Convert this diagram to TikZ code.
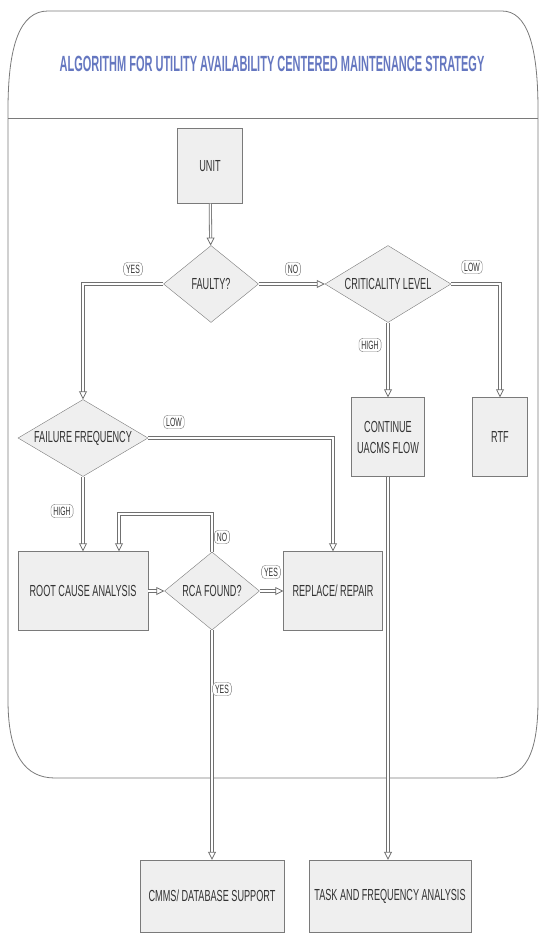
\documentclass[tikz,border=0pt]{standalone}
\usepackage{fontspec}
\setmainfont{Liberation Sans}[FakeStretch=0.57]
\newfontfamily\titlefont{Liberation Sans}[FakeStretch=0.5]
\usetikzlibrary{shapes.geometric,arrows.meta}

\begin{document}
\begin{tikzpicture}[x=1pt,y=-1pt,
    block/.style={draw=lineColour, fill=fillColour, text=textColour, inner sep=0pt, align=center, font=\fontsize{16}{21}\selectfont},
    decision/.style={diamond, aspect=1.6, draw=lineColour, fill=fillColour, text=textColour, inner sep=0pt, font=\fontsize{16}{21}\selectfont},
    flow/.style={draw=flowColour, line width=0.8pt, double=white, double distance=1.5pt, -{Triangle[open,length=8pt,width=8pt]}},
    tag/.style={draw=lineColour, fill=white, rounded corners=4pt, text=textColour, inner xsep=2.5pt, inner ysep=2.5pt, font=\fontsize{12}{13}\selectfont}]
    % Define colours
    \definecolor{lineColour}{HTML}{7A7A7A}
    \definecolor{flowColour}{HTML}{707070}
    \definecolor{fillColour}{HTML}{EFEFEF}
    \definecolor{textColour}{HTML}{333333}
    \definecolor{titleColour}{HTML}{6577C0}

    % Fix the page size
    \useasboundingbox (0,0) rectangle (541,934);

    % Draw the frame
    \draw[lineColour, line width=0.8pt] (8,110) .. controls (8,45) and (20,11) .. (48,11) -- (502,11)
        .. controls (527,11) and (538,45) .. (538,110) -- (538,700)
        .. controls (538,755) and (525,778) .. (495,778) -- (55,778)
        .. controls (25,778) and (8,755) .. (8,700) -- cycle;
    \draw[lineColour, line width=0.8pt] (8,118) -- (538,118);
    \node[text=titleColour, font=\titlefont\bfseries\fontsize{22}{24}\selectfont] (title) at (272,64)
        {ALGORITHM FOR UTILITY AVAILABILITY CENTERED MAINTENANCE STRATEGY};

    % Place the steps
    \node[block, minimum width=65pt, minimum height=75pt] (unit) at (210,166) {UNIT};
    \node[decision, minimum width=95pt, minimum height=77pt] (faulty) at (211,284) {FAULTY?};
    \node[decision, minimum width=126pt, minimum height=77pt] (crit) at (388,284) {CRITICALITY LEVEL};
    \node[decision, minimum width=130pt, minimum height=77pt] (freq) at (83,438) {FAILURE FREQUENCY};
    \node[block, minimum width=73pt, minimum height=79pt] (cont) at (388,437) {CONTINUE\\UACMS FLOW};
    \node[block, minimum width=55pt, minimum height=79pt] (rtf) at (500,437) {RTF};
    \node[block, minimum width=130pt, minimum height=79pt] (root) at (83,591) {ROOT CAUSE ANALYSIS};
    \node[decision, minimum width=95pt, minimum height=78pt] (rca) at (212,591) {RCA FOUND?};
    \node[block, minimum width=99pt, minimum height=79pt] (repair) at (333,591) {REPLACE/ REPAIR};
    \node[block, minimum width=144pt, minimum height=72pt] (cmms) at (212,896) {CMMS/ DATABASE SUPPORT};
    \node[block, minimum width=162pt, minimum height=72pt] (task) at (390,896) {TASK AND FREQUENCY ANALYSIS};

    % Draw the connectors
    \coordinate (loop) at (119,514);
    \draw[flow] (unit) -- (faulty);
    \draw[flow] (faulty.west) -| (freq.north);
    \draw[flow] (faulty) -- (crit);
    \draw[flow] (crit.east) -| (rtf.north);
    \draw[flow] (crit) -- (cont);
    \draw[flow] (freq.east) -| (repair.north);
    \draw[flow] (freq) -- (root);
    \draw[flow] (root) -- (rca);
    \draw[flow] (rca) -- (repair);
    \draw[flow] (rca.north) -- (rca.north |- loop) -- (loop) -- (loop |- root.north);
    \draw[flow] (rca) -- (cmms);
    \draw[flow] (cont.south) -- (cont.south |- task.north);

    % Label the connectors
    \node[tag] (yesFaulty) at (133,269) {YES};
    \node[tag] (noFaulty) at (293,269) {NO};
    \node[tag] (lowCrit) at (472,267) {LOW};
    \node[tag] (highCrit) at (370,345) {HIGH};
    \node[tag] (lowFreq) at (174,422) {LOW};
    \node[tag] (highFreq) at (62,511) {HIGH};
    \node[tag] (noRca) at (222,537) {NO};
    \node[tag] (yesRepair) at (271,572) {YES};
    \node[tag] (yesCmms) at (222,689) {YES};

\end{tikzpicture}
\end{document}
